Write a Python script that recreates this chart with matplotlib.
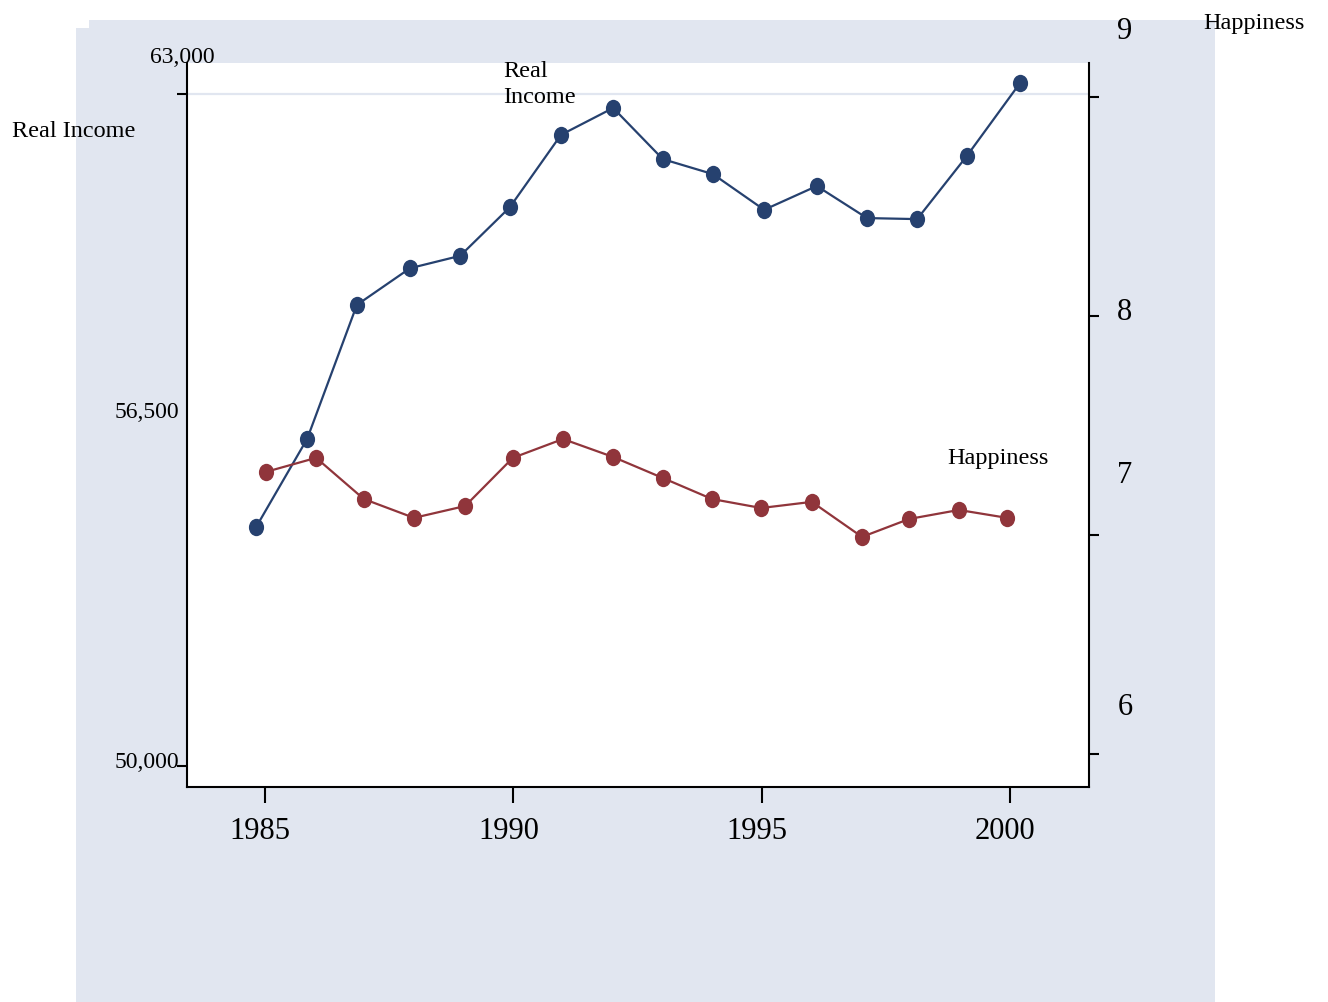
import matplotlib
matplotlib.use("Agg")
import matplotlib.pyplot as plt
from matplotlib.patches import Rectangle
from matplotlib.path import Path
from matplotlib.transforms import Affine2D, ScaledTranslation

plt.rcParams['font.family'] = ['Liberation Serif', 'DejaVu Serif']

# ---- data ----
income_years = [1984.82, 1985.85, 1986.85, 1987.92, 1988.93, 1989.93, 1990.96, 1992.01,
                1993.01, 1994.02, 1995.05, 1996.11, 1997.12, 1998.13, 1999.13, 2000.20]
real_income = [54620, 56330, 58920, 59630, 59870, 60810, 62210, 62730,
               61740, 61450, 60760, 61220, 60600, 60580, 61800, 63210]

happy_years = [1985.02, 1986.03, 1986.99, 1988.00, 1989.03, 1989.99, 1991.00, 1992.01,
               1993.01, 1994.00, 1994.99, 1996.01, 1997.02, 1997.97, 1998.97, 1999.94]
happiness = [7.288, 7.352, 7.164, 7.078, 7.132, 7.352, 7.438, 7.356,
             7.260, 7.164, 7.123, 7.151, 6.991, 7.073, 7.114, 7.078]

x_ticks = [1985, 1990, 1995, 2000]
x_tick_labels = ['1985', '1990', '1995', '2000']
income_ticks = [50000, 63000]
income_tick_labels = ['63,000', '56,500', '50,000']
happy_ticks = [6, 7, 8, 9]
happy_tick_labels = ['9', '8', '7', '6']

# ---- styling ----
W, H = 1328, 1002
BLUE = '#26416F'
RED = '#90353B'
LAV = '#E1E6F0'

def fx(px):
    return px / W

def fy(py):
    return 1 - py / H

fig = plt.figure(figsize=(W / 100, H / 100), dpi=100)
fig.patch.set_facecolor('white')

# background panels
fig.add_artist(Rectangle((fx(89), fy(1002)), (1215 - 89) / W, (1002 - 20) / H,
                         transform=fig.transFigure, facecolor=LAV, edgecolor='none', zorder=-2))
fig.add_artist(Rectangle((fx(76), fy(1002)), (1215 - 76) / W, (1002 - 28) / H,
                         transform=fig.transFigure, facecolor=LAV, edgecolor='none', zorder=-2))

ax = fig.add_axes([fx(187), fy(787), (1089 - 187) / W, (787 - 63) / H])
ax.set_facecolor('white')
ax.set_xlim(1983.43, 2001.59)
ax.set_ylim(49594, 63600)

ax2 = ax.twinx()
ax2.set_ylim(5.849, 9.155)

ellipse = Path.unit_circle().transformed(Affine2D().scale(0.875, 1.0))

ax.axhline(63000, color=LAV, lw=1.6, zorder=0.5)

ax.plot(income_years, real_income, color=BLUE, lw=1.6, marker=ellipse,
        ms=12.5, mew=0, zorder=3)
ax2.plot(happy_years, happiness, color=RED, lw=1.6, marker=ellipse,
         ms=12.5, mew=0, zorder=3)

for s in ['top', 'right']:
    ax.spines[s].set_visible(False)
for s in ['top', 'left', 'bottom']:
    ax2.spines[s].set_visible(False)
for s in ['left', 'bottom']:
    ax.spines[s].set_linewidth(1.5)
ax2.spines['right'].set_linewidth(1.5)

ax.set_xticks(x_ticks)
ax.set_xticklabels(x_tick_labels, fontsize=22)
ax.tick_params(axis='x', length=11.5, width=1.5, pad=10, direction='out')
for lab in ax.get_xticklabels():
    lab.set_transform(lab.get_transform() + ScaledTranslation(-5 / 100, 0, fig.dpi_scale_trans))

ax.set_yticks(income_ticks)
ax.set_yticklabels([''] * len(income_ticks))
ax.tick_params(axis='y', length=7.2, width=1.5, direction='out')

ax2.set_yticks(happy_ticks)
ax2.set_yticklabels([''] * len(happy_ticks))
ax2.tick_params(axis='y', length=7.2, width=1.5, direction='out')

# left axis labels
fig.text(fx(150), fy(63), income_tick_labels[0], fontsize=17, ha='left', va='baseline')
fig.text(fx(179), fy(418), income_tick_labels[1], fontsize=17, ha='right', va='baseline')
fig.text(fx(179), fy(768), income_tick_labels[2], fontsize=17, ha='right', va='baseline')
fig.text(fx(12), fy(137), 'Real Income', fontsize=17.5, ha='left', va='baseline')

# right axis labels
for lab, base in zip(happy_tick_labels, [39, 320, 483, 715]):
    fig.text(fx(1125), fy(base), lab, fontsize=22, ha='center', va='baseline')
fig.text(fx(1203), fy(29), 'Happiness', fontsize=17.5, ha='left', va='baseline')

# in-plot series labels
fig.text(fx(503), fy(103), 'Real\nIncome', fontsize=17.5, ha='left', va='baseline',
         linespacing=1.3)
fig.text(fx(947), fy(464), 'Happiness', fontsize=17.5, ha='left', va='baseline')

fig.savefig('out.png', dpi=100)
